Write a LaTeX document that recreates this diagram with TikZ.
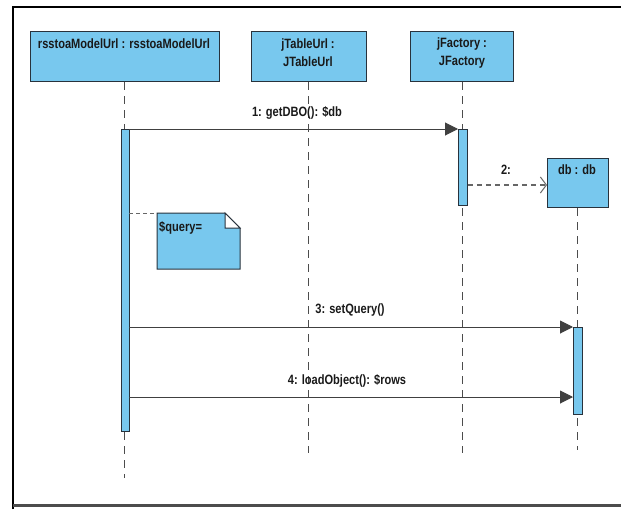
\documentclass[tikz,border=0pt]{standalone}
\usepackage{fontspec}
\setmainfont{Liberation Sans}[FakeStretch=0.82]
\usetikzlibrary{arrows.meta,shapes.misc}
\definecolor{fillblue}{RGB}{120,200,238}
\definecolor{edge}{RGB}{40,50,60}
\definecolor{txt}{RGB}{25,25,25}
\tikzset{
  obj/.style={draw=edge,fill=fillblue,line width=1pt,anchor=north west,inner sep=0pt},
  lbl/.style={font=\bfseries\fontsize{13.5}{18}\selectfont,text=txt,inner sep=0pt,align=center},
  life/.style={draw=black!70,line width=0.9pt,dash pattern=on 8pt off 6pt},
  act/.style={draw=edge,fill=fillblue,line width=0.9pt},
  msg/.style={draw=black!75,line width=1pt,-{Triangle[length=13pt,width=13pt]}},
  ret/.style={draw=black!60,line width=1.4pt,dash pattern=on 5pt off 4pt,-{Straight Barb[length=6pt,width=16pt,line width=1pt]}},
}
\begin{document}
\begin{tikzpicture}[x=1pt,y=-1pt]
\useasboundingbox (0,0) rectangle (621,509);
% frame
\draw[black,line width=2pt] (13,509) -- (13,7) -- (621,7);
\draw[black!70,line width=3pt] (13,505.5) -- (621,505.5);
% object boxes
\node[obj,minimum width=189pt,minimum height=50pt] (a) at (30,31) {};
\node[obj,minimum width=115pt,minimum height=50pt] (b) at (251,31) {};
\node[obj,minimum width=103pt,minimum height=50pt] (c) at (410,31) {};
\node[obj,minimum width=61pt,minimum height=49pt] (d) at (547,158) {};
\node[lbl] (ta) at (124,44) {rsstoaModelUrl : rsstoaModelUrl};
\node[lbl] (tb) at (308,53) {jTableUrl :\\JTableUrl};
\node[lbl] (tc) at (462,53) {jFactory :\\JFactory};
\node[lbl] (td) at (577,170) {db : db};
% lifeline end points
\coordinate (ae) at (124,478);
\coordinate (be) at (308,453);
\coordinate (ce) at (462,453);
\coordinate (de) at (577,450);
\draw[life] (a.south -| ae) -- (ae);
\draw[life] (b.south -| be) -- (be);
\draw[life] (c.south -| ce) -- (ce);
\draw[life] (d.south -| de) -- (de);
% activations
\node[act,anchor=north west,minimum width=8pt,minimum height=302pt,inner sep=0pt] (aa) at (120.5,129) {};
\node[act,anchor=north west,minimum width=9pt,minimum height=76pt,inner sep=0pt] (ca) at (458,129) {};
\node[act,anchor=north west,minimum width=9pt,minimum height=87pt,inner sep=0pt] (da) at (573,327) {};
% note
\coordinate (n1) at (157,213);
\coordinate (n2) at (225,213);
\coordinate (n3) at (240,228);
\coordinate (n4) at (240,269);
\coordinate (n5) at (157,269);
\draw[draw=edge,fill=fillblue,line width=1pt] (n1) -- (n2) -- (n3) -- (n4) -- (n5) -- cycle;
\draw[draw=edge,fill=white,line width=1pt] (n2) -- (n3) -- (n2 |- n3) -- cycle;
\node[lbl,anchor=west] (nq) at (159,228) {\$query=};
\draw[black!60,line width=1pt,dash pattern=on 4pt off 3pt] (aa.east |- n1) -- (n1);
% messages
\draw[msg] (aa.east |- 0,129) -- (ca.north west);
\node[lbl] (m1) at (297,113) {1: getDBO(): \$db};
\draw[ret] (ca.east |- 0,185) -- (d.west |- 0,185);
\node[lbl] (m2) at (506,170) {2:};
\draw[msg] (aa.east |- 0,327) -- (da.north west);
\node[lbl] (m3) at (350,310) {3: setQuery()};
\draw[msg] (aa.east |- 0,397) -- (da.west |- 0,397);
\node[lbl] (m4) at (347,381) {4: loadObject(): \$rows};
\end{tikzpicture}
\end{document}
